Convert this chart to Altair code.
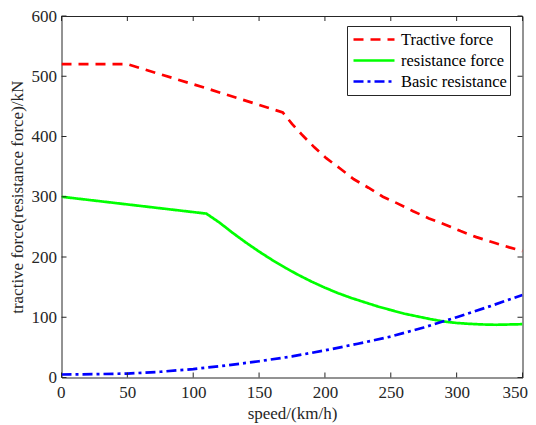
import altair as alt
import pandas as pd

# values
series_names = ["Tractive force", "resistance force", "Basic resistance"]
series_colors = ["#ff0000", "#00ff00", "#0000ff"]

speed_tractive = [0, 50, 110, 168, 175, 183, 192, 201, 212, 222, 233, 244,
                  255, 267, 279, 291, 303, 315, 328, 340, 350]
tractive = [520, 520, 480, 440, 421, 402, 382, 364, 346, 329, 315, 300,
            289, 276, 264, 254, 243, 233, 224, 216, 210]

speed_resist = [0, 110, 120, 130, 140, 150, 160, 170, 180, 190, 200, 210, 220,
                230, 240, 250, 260, 270, 280, 290, 300, 310, 320, 330, 340, 350]
resist = [300, 272, 257, 240, 224, 209, 195, 182, 170, 159, 149, 140, 132,
          125, 118, 112, 106, 101.5, 97, 93, 90.5, 89, 88, 87.5, 88, 88.5]

speed_basic = [0, 25, 50, 75, 100, 125, 150, 175, 200, 225, 250, 275, 300, 325, 350]
basic = [5, 5.5, 6.5, 9.5, 14, 20, 27, 35, 45, 56, 68, 83, 100, 118, 137]

x_ticks = [0, 50, 100, 150, 200, 250, 300, 350]
y_ticks = [0, 100, 200, 300, 400, 500, 600]

rows = []
for name, xs, ys in zip(series_names,
                        [speed_tractive, speed_resist, speed_basic],
                        [tractive, resist, basic]):
    for sp, f in zip(xs, ys):
        rows.append({"series": name, "speed": sp, "force": f})
df = pd.DataFrame(rows)

xt = pd.DataFrame({"v": x_ticks})
yt = pd.DataFrame({"v": y_ticks})

W = 461
H = 361.5

x_scale = alt.Scale(domain=[0, 350], nice=False, zero=False)
y_scale = alt.Scale(domain=[0, 600], nice=False)
x_axis = alt.Axis(values=x_ticks, title="speed/(km/h)")
y_axis = alt.Axis(values=y_ticks, title="tractive force(resistance force)/kN")

lines = alt.Chart(df).mark_line(strokeWidth=2.7, clip=True).encode(
    x=alt.X("speed:Q", scale=x_scale, axis=x_axis),
    y=alt.Y("force:Q", scale=y_scale, axis=y_axis),
    color=alt.Color("series:N", sort=series_names,
                    scale=alt.Scale(domain=series_names, range=series_colors),
                    legend=alt.Legend(title=None)),
    strokeDash=alt.StrokeDash("series:N", sort=series_names,
                              scale=alt.Scale(domain=series_names,
                                              range=[[10, 7], [1, 0], [10, 4, 3, 4]]),
                              legend=alt.Legend(title=None)),
)

# inward ticks on all four sides
tick_col = "#262626"
bottom_ticks = alt.Chart(xt).mark_rule(color=tick_col).encode(
    x=alt.X("v:Q", scale=x_scale, axis=x_axis), y=alt.value(H), y2=alt.value(H - 5))
top_ticks = alt.Chart(xt).mark_rule(color=tick_col).encode(
    x=alt.X("v:Q", scale=x_scale, axis=x_axis), y=alt.value(0), y2=alt.value(5))
left_ticks = alt.Chart(yt).mark_rule(color=tick_col).encode(
    y=alt.Y("v:Q", scale=y_scale, axis=y_axis), x=alt.value(0), x2=alt.value(5))
right_ticks = alt.Chart(yt).mark_rule(color=tick_col).encode(
    y=alt.Y("v:Q", scale=y_scale, axis=y_axis), x=alt.value(W), x2=alt.value(W - 5))

serif = "Liberation Serif, Times New Roman, serif"

chart = alt.layer(lines, bottom_ticks, top_ticks, left_ticks, right_ticks).properties(
    width=W, height=H,
    autosize=alt.AutoSizeParams(type="none"),
    padding={"left": 53.5, "top": 8, "right": 5, "bottom": 45},
).configure_view(
    stroke=tick_col, strokeWidth=1
).configure_axis(
    grid=False, domain=False, ticks=False, labelOverlap=False,
    labelFont=serif, labelFontSize=17, labelColor=tick_col,
    titleFont=serif, titleFontSize=17, titleColor=tick_col,
    titleFontWeight="normal",
).configure_axisX(
    labelPadding=7, titlePadding=5, labelFlush=True, labelFlushOffset=5
).configure_axisY(
    labelPadding=5, titlePadding=5, labelFlush=False
).configure_legend(
    orient="none", legendX=285.5, legendY=10,
    strokeColor="#262626", fillColor="white", padding=3,
    symbolType="stroke", symbolSize=1681, symbolStrokeWidth=2.7,
    clipHeight=21, rowPadding=0, symbolOffset=2, labelOffset=5,
    labelFont=serif, labelFontSize=16.5, labelColor="black",
)

chart.save("out.html", embed_options={"renderer": "svg", "actions": False})
